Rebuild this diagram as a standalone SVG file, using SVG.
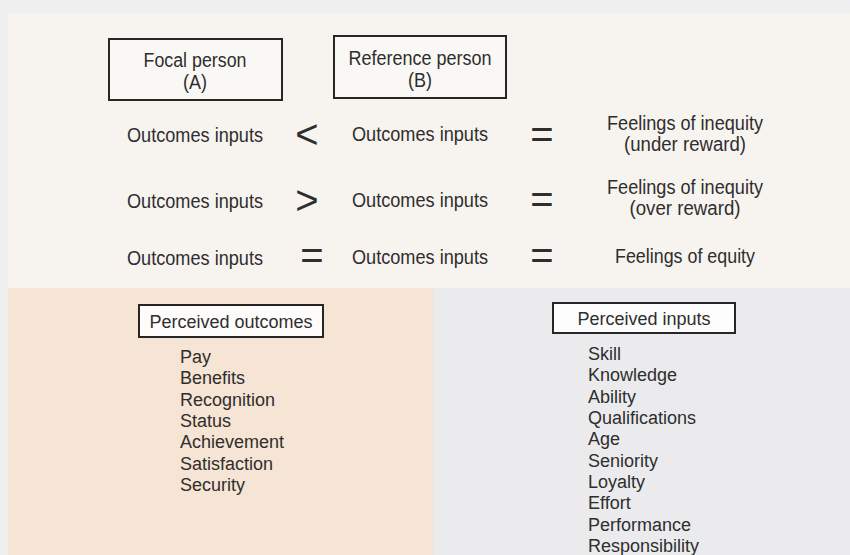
<svg xmlns="http://www.w3.org/2000/svg" width="850" height="555" viewBox="0 0 850 555">
<style>
.t{font-family:"Liberation Sans",Arial,sans-serif;font-size:20px;fill:#2e2e2e}
.l{font-family:"Liberation Sans",Arial,sans-serif;font-size:18px;fill:#2e2e2e}
.s{font-family:"Liberation Sans",Arial,sans-serif;font-size:40px;fill:#2e2e2e;text-anchor:middle}
.c{text-anchor:middle}
.box{stroke:#262626;stroke-width:2}
</style>
<rect x="0" y="0" width="850" height="555" fill="#f0f0f0"/>
<rect id="top-panel" x="8" y="13" width="842" height="275" fill="#f7f3ef"/>
<rect id="outcomes-panel" x="8" y="288" width="425" height="267" fill="#f6e4d4"/>
<rect id="inputs-panel" x="433" y="288" width="417" height="267" fill="#ebebed"/>

<g id="focal-person">
<rect class="box" x="109" y="39" width="173" height="61" fill="#faf8f5"/>
<text class="t c" x="195" y="67" textLength="103" lengthAdjust="spacingAndGlyphs">Focal person</text>
<text class="t c" x="195" y="89" textLength="24" lengthAdjust="spacingAndGlyphs">(A)</text>
</g>
<g id="reference-person">
<rect class="box" x="334" y="36" width="172" height="62" fill="#faf8f5"/>
<text class="t c" x="420" y="65" textLength="143" lengthAdjust="spacingAndGlyphs">Reference person</text>
<text class="t c" x="420" y="87" textLength="24" lengthAdjust="spacingAndGlyphs">(B)</text>
</g>

<g id="row-under">
<text class="t" x="127" y="142" textLength="136" lengthAdjust="spacingAndGlyphs">Outcomes inputs</text>
<text class="s" x="307" y="148">&lt;</text>
<text class="t" x="352" y="141" textLength="136" lengthAdjust="spacingAndGlyphs">Outcomes inputs</text>
<text class="s" x="542" y="148">=</text>
<text class="t c" x="685" y="130" textLength="156" lengthAdjust="spacingAndGlyphs">Feelings of inequity</text>
<text class="t c" x="685" y="151" textLength="122" lengthAdjust="spacingAndGlyphs">(under reward)</text>
</g>
<g id="row-over">
<text class="t" x="127" y="208" textLength="136" lengthAdjust="spacingAndGlyphs">Outcomes inputs</text>
<text class="s" x="307" y="214">&gt;</text>
<text class="t" x="352" y="207" textLength="136" lengthAdjust="spacingAndGlyphs">Outcomes inputs</text>
<text class="s" x="542" y="213">=</text>
<text class="t c" x="685" y="194" textLength="156" lengthAdjust="spacingAndGlyphs">Feelings of inequity</text>
<text class="t c" x="685" y="215" textLength="111" lengthAdjust="spacingAndGlyphs">(over reward)</text>
</g>
<g id="row-equity">
<text class="t" x="127" y="265" textLength="136" lengthAdjust="spacingAndGlyphs">Outcomes inputs</text>
<text class="s" x="312" y="269">=</text>
<text class="t" x="352" y="264" textLength="136" lengthAdjust="spacingAndGlyphs">Outcomes inputs</text>
<text class="s" x="542" y="269">=</text>
<text class="t c" x="685" y="263" textLength="140" lengthAdjust="spacingAndGlyphs">Feelings of equity</text>
</g>

<g id="perceived-outcomes">
<rect class="box" x="139" y="305" width="184" height="32" fill="#fdfcfb"/>
<text class="l c" x="231" y="328">Perceived outcomes</text>
<text class="l" x="180" y="363">Pay</text>
<text class="l" x="180" y="384.3">Benefits</text>
<text class="l" x="180" y="405.7">Recognition</text>
<text class="l" x="180" y="427">Status</text>
<text class="l" x="180" y="448.3">Achievement</text>
<text class="l" x="180" y="469.7">Satisfaction</text>
<text class="l" x="180" y="491">Security</text>
</g>

<g id="perceived-inputs">
<rect class="box" x="553" y="303" width="182" height="30" fill="#fdfdfd"/>
<text class="l c" x="644" y="325">Perceived inputs</text>
<text class="l" x="588" y="360">Skill</text>
<text class="l" x="588" y="381.3">Knowledge</text>
<text class="l" x="588" y="402.7">Ability</text>
<text class="l" x="588" y="424">Qualifications</text>
<text class="l" x="588" y="445.3">Age</text>
<text class="l" x="588" y="466.7">Seniority</text>
<text class="l" x="588" y="488">Loyalty</text>
<text class="l" x="588" y="509.3">Effort</text>
<text class="l" x="588" y="530.7">Performance</text>
<text class="l" x="588" y="552">Responsibility</text>
</g>
</svg>
